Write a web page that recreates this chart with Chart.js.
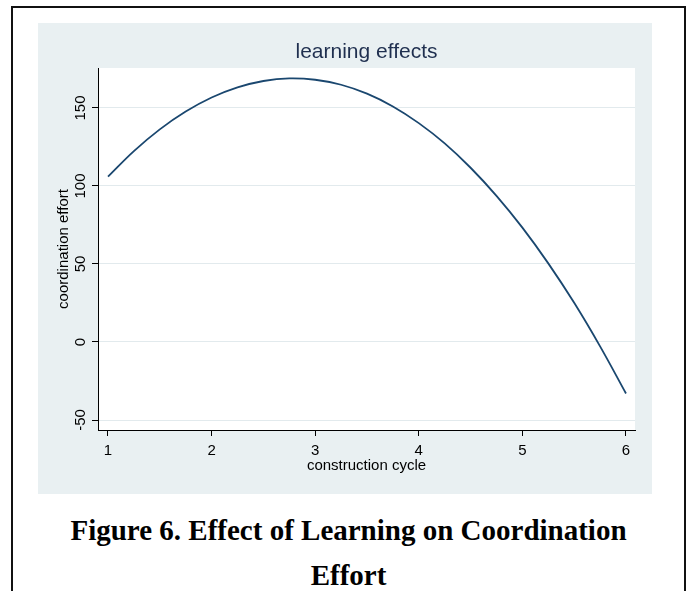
<!DOCTYPE html>
<html>
<head>
<meta charset="utf-8">
<script src="https://cdn.jsdelivr.net/npm/chart.js@4"></script>
<style>
  html, body { margin: 0; padding: 0; background: #fff; }
  body { width: 691px; height: 591px; position: relative; overflow: hidden; }
  #frame { position: absolute; left: 11px; top: 6px; width: 675px; height: 620px; border: 2px solid #111; box-sizing: border-box; }
  #panel { position: absolute; left: 38px; top: 23px; width: 614px; height: 471px; background: #e9f0f2; }
  #caption { position: absolute; left: 11px; top: 508px; width: 675px; text-align: center;
    font-family: "Liberation Serif", "Times New Roman", serif; font-weight: bold; font-size: 29px; line-height: 45px; color: #000; }
</style>
</head>
<body>
<div id="frame"></div>
<div id="panel"><canvas id="chart" width="614" height="471"></canvas></div>
<div id="caption">Figure 6. Effect of Learning on Coordination<br>Effort</div>
<script>
// valores (ciclo de construção x esforço de coordenação)
const cycles = [1, 1.25, 1.5, 1.75, 2, 2.25, 2.5, 2.75, 3, 3.25, 3.5, 3.75, 4, 4.25, 4.5, 4.75, 5, 5.25, 5.5, 5.75, 6];
const effort = [106, 122.4, 136.3, 147.7, 156.7, 163.2, 167.3, 169.0, 168.1, 164.9, 159.2, 151.0, 140.3, 127.3, 111.7, 93.7, 73.3, 50.4, 25.1, -2.8, -33];
const xTicks = [1, 2, 3, 4, 5, 6];
const yTicks = [-50, 0, 50, 100, 150];

// fundo branco da área do gráfico
const plotBg = {
  id: 'plotBg',
  beforeDraw(chart) {
    const a = chart.chartArea;
    const ctx = chart.ctx;
    ctx.save();
    ctx.fillStyle = '#ffffff';
    ctx.fillRect(a.left, a.top, a.right - a.left, a.bottom - a.top);
    ctx.restore();
  }
};

const ctx = document.getElementById('chart').getContext('2d');
new Chart(ctx, {
  type: 'line',
  data: {
    datasets: [{
      label: 'learning effects',
      data: cycles.map((c, i) => ({ x: c, y: effort[i] })),
      borderColor: '#1a476f',
      borderWidth: 1.8,
      pointRadius: 0,
      tension: 0.4,
      fill: false
    }]
  },
  options: {
    responsive: false,
    animation: false,
    devicePixelRatio: 1,
    layout: { padding: { left: 0, right: 17, top: 0, bottom: 0 } },
    plugins: {
      legend: { display: false },
      tooltip: { enabled: false },
      title: {
        display: true,
        text: 'learning effects',
        fullSize: false,
        color: '#1f2f4f',
        font: { family: 'Liberation Sans, Arial, sans-serif', size: 21, weight: 'normal' },
        padding: { top: 16.4, bottom: 3.4 }
      }
    },
    scales: {
      x: {
        type: 'linear',
        min: 0.9035,
        max: 6.087,
        afterBuildTicks: s => { s.ticks = xTicks.map(v => ({ value: v })); },
        afterFit: s => { s.height = 64; },
        grid: { drawOnChartArea: false, drawTicks: true, tickLength: 6, tickColor: '#000' },
        border: { display: true, color: '#000', width: 1 },
        ticks: { color: '#000', padding: 6, maxRotation: 0, font: { family: 'Liberation Sans, Arial, sans-serif', size: 15 } },
        title: {
          display: true,
          text: 'construction cycle',
          color: '#000',
          font: { family: 'Liberation Sans, Arial, sans-serif', size: 15 },
          padding: { top: 0, bottom: 19 }
        }
      },
      y: {
        min: -56.41,
        max: 175.64,
        afterBuildTicks: s => { s.ticks = yTicks.map(v => ({ value: v })); },
        afterFit: s => { s.width = 60; },
        grid: { color: '#e2eaed', lineWidth: 1, drawTicks: true, tickLength: 6, tickColor: '#000' },
        border: { display: true, color: '#000', width: 1 },
        ticks: { color: '#000', padding: -1, minRotation: 90, maxRotation: 90, crossAlign: 'center',
          font: { family: 'Liberation Sans, Arial, sans-serif', size: 15 } },
        title: {
          display: true,
          text: 'coordination effort',
          color: '#000',
          font: { family: 'Liberation Sans, Arial, sans-serif', size: 15 },
          padding: { top: 17, bottom: 0 }
        }
      }
    }
  },
  plugins: [plotBg]
});
</script>
</body>
</html>
